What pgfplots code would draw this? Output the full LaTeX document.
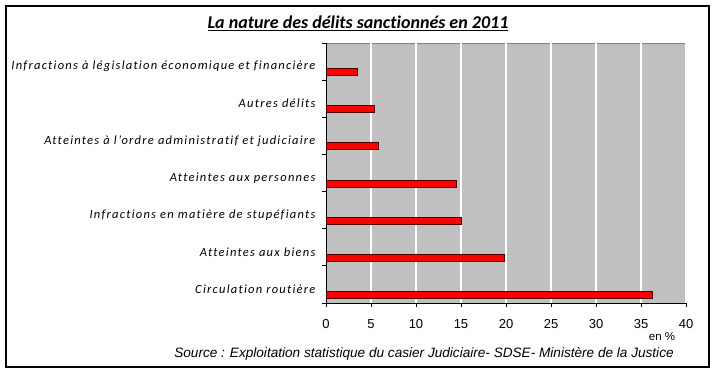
\documentclass[border=0pt]{standalone}
\usepackage{fontspec}
\setmainfont{Liberation Sans}
\newfontfamily\carlito{Carlito}[Ligatures=CommonOff]
\newfontfamily\carlitols{Carlito}[LetterSpace=10, Ligatures=CommonOff]
\usepackage{pgfplots}
\pgfplotsset{compat=1.18}
\definecolor{plotgray}{HTML}{C0C0C0}
\begin{document}
\begin{tikzpicture}[x=1pt,y=1pt]
\path[use as bounding box, fill=white] (0,0) rectangle (717,373);
\draw[line width=1.6pt] (6,6) rectangle (709,367);
\begin{axis}[at={(326pt,70pt)}, anchor=south west, scale only axis,
  width=360pt, height=260pt,
  xbar, bar width=7pt, bar shift=-10.5pt,
  xmin=0, xmax=40, ymin=-0.5, ymax=6.5,
  axis background/.style={fill=plotgray, draw=gray},
  axis x line*=bottom, axis y line*=left,
  axis line style={black, -, line width=0.8pt},
  tick align=outside, major tick length=4pt,
  tick style={black, line width=0.8pt},
  xtick={0,5,...,40},
  xmajorgrids, major grid style={white, line width=1.5pt},
  ytick={-0.5,0.5,1.5,2.5,3.5,4.5,5.5,6.5},
  yticklabels={Circulation routière, Atteintes aux biens, Infractions en matière de stupéfiants, Atteintes aux personnes, Atteintes à l’ordre administratif et judiciaire, Autres délits, Infractions à législation économique et financière, {}},
  yticklabel style={font=\carlitols\itshape\fontsize{12.5}{14}\selectfont, yshift=13.6pt, xshift=-3pt, anchor=east},
  xticklabel style={font=\fontsize{13}{15}\selectfont, yshift=-9pt},
  /pgf/number format/assume math mode=true,
]
\addplot[fill=red, draw=black!70!red, line width=0.8pt] coordinates {
(36.3,0) (19.8,1) (15.05,2) (14.5,3) (5.8,4) (5.35,5) (3.5,6)};
\end{axis}
\node at (358,350) {\carlito\bfseries\itshape\fontsize{18}{21}\selectfont \underline{La nature des délits sanctionnés en 2011}};
\node at (424,19) {\itshape\fontsize{13.6}{15}\selectfont Source : Exploitation statistique du casier Judiciaire- SDSE- Ministère de la Justice};
\node at (662,36) {\fontsize{11.5}{13}\selectfont en \%};
\end{tikzpicture}
\end{document}
